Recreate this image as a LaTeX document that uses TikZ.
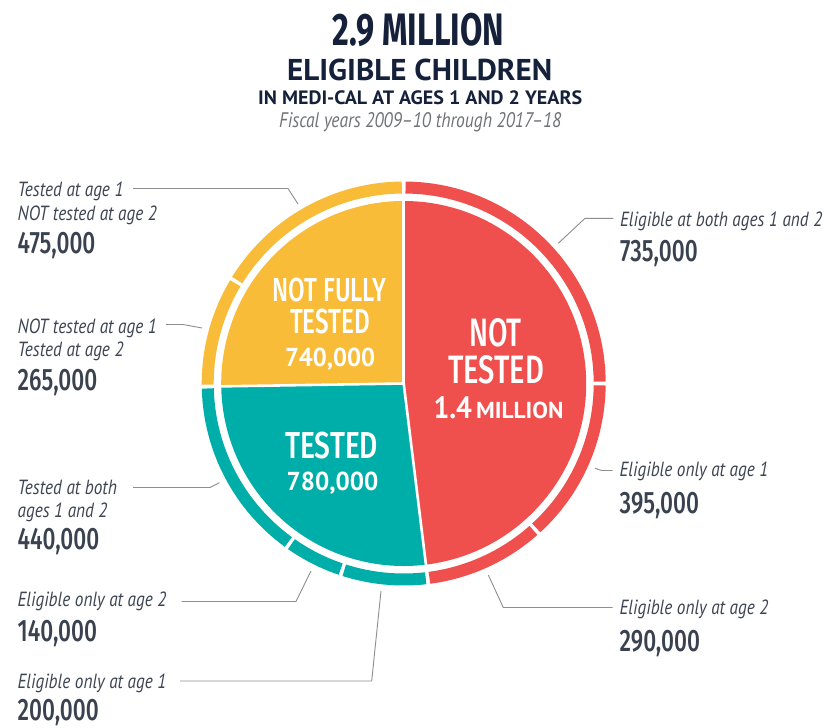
\documentclass[tikz,border=0pt]{standalone}
\usepackage{fontspec}
\setmainfont{PT Sans}
\newfontfamily\fira{Fira Sans}
\newfontfamily\firamed{Fira Sans Medium}
\newfontfamily\numfont[FakeStretch=0.73]{Fira Sans Medium}
\newfontfamily\labfont[FakeStretch=0.84]{PT Sans}
\definecolor{rd}{HTML}{EF4F4D}
\definecolor{ylw}{HTML}{F8BC38}
\definecolor{tl}{HTML}{00AEA9}
\definecolor{navy}{HTML}{15213A}
\definecolor{labc}{HTML}{3D4452}
\definecolor{numc}{HTML}{3A4250}
\definecolor{fiscal}{HTML}{707276}
\definecolor{connc}{HTML}{8E8E8E}
\newcommand\fitb[3]{\resizebox{#1pt}{#2pt}{#3}}
\newcommand\seg[3]{\draw[#1, line width=12pt] (C) ++({-(#2+0.55)}:196) arc[start angle={-(#2+0.55)}, end angle={-(#3-0.55)}, radius=196];}
\begin{document}
\begin{tikzpicture}[x=1pt,y=-1pt,
  lab/.style={anchor=base west, inner sep=0, text=labc, font={\labfont\itshape\fontsize{20.5}{20.5}\selectfont}},
  num/.style={anchor=base west, inner sep=0, text=numc, font={\numfont\fontsize{31}{31}\selectfont}},
  conn/.style={draw=connc, line width=0.9pt},
  pielab/.style={anchor=base, inner sep=0, text=white},
  ttl/.style={anchor=base west, inner sep=0, text=navy}]
\fill[white] (0,0) rectangle (825,728);
\useasboundingbox (0,0) rectangle (825,728);
\coordinate (C) at (403.7,383.5);
% pie
\fill[ylw] (C) -- ++(-90:182.5) arc[start angle=-90, end angle=-180.9, radius=182.5] -- cycle;
\fill[tl] (C) -- ++(-180.9:182.5) arc[start angle=-180.9, end angle=-277, radius=182.5] -- cycle;
\fill[rd] (C) -- ++(-277:182.5) arc[start angle=-277, end angle=-450, radius=182.5] -- cycle;
\foreach \a in {-90,-180.9,-277} \draw[white, line width=2.6pt] (C) -- ++(\a:186);
% ring
\seg{ylw}{90}{148.7}
\seg{ylw}{148.7}{180.9}
\seg{tl}{180.9}{234.5}
\seg{tl}{234.5}{251.8}
\seg{tl}{251.8}{277}
\seg{rd}{277}{312}
\seg{rd}{312}{360}
\seg{rd}{360}{450}
% title
\node[ttl] (t1) at (332.7,45) {\fitb{171}{32.3}{\fira\bfseries 2.9 MILLION}};
\node[ttl] (t2) at (287,80) {\fitb{265}{21.5}{\bfseries ELIGIBLE CHILDREN}};
\node[ttl] (t3) at (258,104) {\fitb{324}{13.8}{\bfseries IN MEDI-CAL AT AGES 1 AND 2 YEARS}};
\node[anchor=base west, inner sep=0, text=fiscal] (t4) at (279,127.5) {\fitb{282}{15}{\itshape Fiscal years 2009–10 through 2017–18}};
% left labels
\node[lab] (a1) at (17.5,196.5) {Tested at age 1};
\node[lab] (a2) at (17.5,220) {NOT tested at age 2};
\node[num] (a3) at (17.5,253.5) {475,000};
\node[lab] (b1) at (17.5,333) {NOT tested at age 1};
\node[lab] (b2) at (17.5,356) {Tested at age 2};
\node[num] (b3) at (17.5,390.5) {265,000};
\node[lab] (c1) at (17.5,494.3) {Tested at both};
\node[lab] (c2) at (17.5,517.5) {ages 1 and 2};
\node[num] (c3) at (17.5,549.5) {440,000};
\node[lab] (d1) at (17.5,606.7) {Eligible only at age 2};
\node[num] (d2) at (17.5,641.7) {140,000};
\node[lab] (e1) at (17.5,688.3) {Eligible only at age 1};
\node[num] (e2) at (17.5,720.3) {200,000};
% right labels
\node[lab] (f1) at (620,226) {Eligible at both ages 1 and 2};
\node[num] (f2) at (620,261) {735,000};
\node[lab] (g1) at (619.5,476.5) {Eligible only at age 1};
\node[num] (g2) at (619.5,513.5) {395,000};
\node[lab] (h1) at (619.5,614.3) {Eligible only at age 2};
\node[num] (h2) at (619.5,651.7) {290,000};
% connectors
\coordinate (sa) at (133,188.5);   \coordinate (pa) at (298,204);
\coordinate (sb) at (166,324.5);   \coordinate (pb) at (202,328);
\coordinate (sc) at (133,487.5);   \coordinate (pc) at (219.3,482.7);
\coordinate (sd) at (181.5,601.5); \coordinate (pd) at (311,571);
\coordinate (se) at (180,681);     \coordinate (pe) at (381,591);
\coordinate (sf) at (613.3,218.3); \coordinate (pf) at (558.3,243.3);
\coordinate (sg) at (612.7,470.5); \coordinate (pg) at (595,468.3);
\coordinate (sh) at (612.7,607.5); \coordinate (ph) at (488.3,575);
\draw[conn] (sa) -- (288,188.5) -- (pa);
\draw[conn] (sb) -- (183,324.5) -- (pb);
\draw[conn] (sc) -- (210,487.5) -- (pc);
\draw[conn] (sd) -- (296,601.5) -- (pd);
\draw[conn] (se) -- (371.7,681) -- (pe);
\draw[conn] (sf) -- (585,218.3) -- (pf);
\draw[conn] (sg) -- (601.7,470.5) -- (pg);
\draw[conn] (sh) -- (503.3,607.5) -- (ph);
% pie labels
\node[pielab] (y1) at (329.7,301.7) {\fitb{114}{23.5}{\firamed NOT FULLY}};
\node[pielab] (y2) at (330,333.3) {\fitb{80}{24.5}{\firamed TESTED}};
\node[pielab] (y3) at (330,366.7) {\fitb{90}{18.5}{\bfseries 740,000}};
\node[pielab] (r1) at (495.5,346.5) {\fitb{52.5}{28}{\firamed NOT}};
\node[pielab] (r2) at (496,383.3) {\fitb{96}{28}{\firamed TESTED}};
\node[anchor=base west, inner sep=0, text=white] (r3) at (433.3,418.3) {\fitb{38.4}{22}{\bfseries 1.4}};
\node[anchor=base west, inner sep=0, text=white] (r4) at (476,418.3) {\fitb{87.3}{16.5}{\bfseries MILLION}};
\node[pielab] (q1) at (331.7,458.3) {\fitb{93}{26.5}{\firamed TESTED}};
\node[pielab] (q2) at (332.5,490) {\fitb{91.6}{18.5}{\bfseries 780,000}};
\end{tikzpicture}
\end{document}
